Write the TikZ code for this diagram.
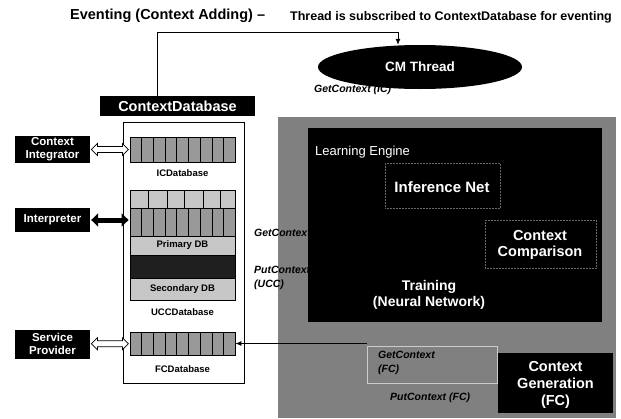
\documentclass[tikz,border=0pt]{standalone}
\usepackage{fontspec}
\setmainfont{Liberation Sans}
\usetikzlibrary{shapes.geometric,shapes.arrows,arrows.meta,calc}
\definecolor{shadegray}{gray}{0.5}
\definecolor{cellgray}{gray}{0.6}
\definecolor{lightrow}{gray}{0.78}
\definecolor{faint}{gray}{0.4}
\pgfdeclarelayer{bg}
\pgfsetlayers{bg,main}
\begin{document}
\begin{tikzpicture}[x=1pt,y=-1pt,
  blackbox/.style={fill=black,text=white,align=center,inner sep=0pt,font=\bfseries\fontsize{11.5}{13}\selectfont},
  dbrow/.style={draw=black,line width=0.8pt,fill=cellgray,inner sep=0pt,minimum width=105pt,font=\bfseries\fontsize{9.5}{11}\selectfont},
  dblabel/.style={inner sep=0pt,font=\bfseries\fontsize{9.5}{11}\selectfont},
  conn/.style={draw=black,line width=0.8pt},
  arr/.style={conn,-{Latex[length=6pt,width=5pt]}},
  lbl/.style={inner sep=0pt,anchor=west,align=left,font=\bfseries\itshape\fontsize{10.5}{13.5}\selectfont},
  inner/.style={text=white,align=center,inner sep=0pt,font=\bfseries\fontsize{14.5}{16.5}\selectfont},
  openarrow/.style={double arrow,draw=black,line width=0.7pt,fill=white,minimum width=12pt,minimum height=37pt,double arrow head extend=3pt,inner xsep=0pt,inner ysep=2.5pt},
  faintbox/.style={draw=faint,densely dotted,line width=0.5pt,inner sep=0pt}
]
\useasboundingbox (0,0) rectangle (621,418);
\fill[white] (0,0) rectangle (621,418);

% title
\node[anchor=west,inner sep=0pt,font=\bfseries\fontsize{14.5}{16}\selectfont] (t1) at (70,16) {Eventing (Context Adding) –};
\node[anchor=east,inner sep=0pt,font=\bfseries\fontsize{12.5}{14}\selectfont] (t2) at (612,17) {Thread is subscribed to ContextDatabase for eventing};

% ContextDatabase column
\node[blackbox,minimum width=155pt,minimum height=20pt,font=\bfseries\fontsize{14.5}{16}\selectfont] (cdbh) at (177.5,106) {ContextDatabase};
\node[draw,line width=0.8pt,minimum width=121pt,minimum height=261pt,inner sep=0pt] (cdb) at (183.5,252.5) {};

\node[dbrow,minimum height=25pt] (icdb) at (182.5,149.5) {};
\node[dblabel] (icl) at (182.5,173) {ICDatabase};

\node[dbrow,fill=lightrow,minimum height=18pt] (ucc1) at (182.5,199) {};
\node[dbrow,minimum height=28pt] (ucc2) at (182.5,222) {};
\node[dbrow,fill=lightrow,minimum height=19pt] (prim) at (182.5,245.5) {Primary DB};
\node[dbrow,fill=black!88,minimum height=23pt] (dark) at (182.5,266.5) {};
\node[dbrow,fill=lightrow,minimum height=22pt] (sec) at (182.5,289) {Secondary DB};
\node[dblabel] (uccl) at (182.5,312) {UCCDatabase};

\node[dbrow,minimum height=23pt] (fcdb) at (182.5,343.5) {};
\node[dblabel] (fcl) at (182.5,369) {FCDatabase};

\foreach \r in {icdb,ucc2,fcdb}{
  \foreach \i in {1,...,8}{
    \draw[line width=0.6pt] ($(\r.north west)!\i/9!(\r.north east)$) -- ($(\r.south west)!\i/9!(\r.south east)$);
  }
}
\foreach \f in {0.18,0.36,0.52,0.7,0.86}{
  \draw[line width=0.6pt] ($(ucc1.north west)!\f!(ucc1.north east)$) -- ($(ucc1.south west)!\f!(ucc1.south east)$);
}

% outside actors
\node[blackbox,minimum width=75pt,minimum height=27pt] (ci) at (52.5,149.5) {Context\\Integrator};
\node[blackbox,minimum width=75pt,minimum height=24pt] (interp) at (52.5,220) {Interpreter};
\node[blackbox,minimum width=75pt,minimum height=29pt] (sp) at (52.5,344) {Service\\Provider};

\node[openarrow] (a1) at ($(ci.east)!0.5!(icdb.west)$) {};
\node[openarrow] (a3) at ($(sp.east)!0.5!(fcdb.west)$) {};
\draw[line width=5pt,{Triangle[length=7pt,width=13pt]}-{Triangle[length=7pt,width=13pt]},shorten <=1pt,shorten >=1pt] (interp.east) -- (interp.east -| ucc2.west);

% shaded region and learning engine
\node[fill=shadegray,inner sep=0pt,minimum width=338pt,minimum height=301pt] (shade) at (447,267.5) {};
\node[fill=black,inner sep=0pt,minimum width=294pt,minimum height=194pt] (le) at (455,225) {};
\node[anchor=west,inner sep=0pt,text=white,font=\fontsize{13}{15}\selectfont] (let) at (315,152) {Learning Engine};
\node[faintbox,minimum width=115pt,minimum height=45pt] (infbox) at (442.5,185.5) {};
\node[inner,font=\bfseries\fontsize{15}{17}\selectfont] (inf) at (442,187) {Inference Net};
\node[faintbox,minimum width=111pt,minimum height=48pt] (cmpbox) at (540.5,244) {};
\node[inner] (cmp) at (540,245) {Context\\Comparison};
\node[inner,font=\bfseries\fontsize{14}{15.5}\selectfont] (trn) at (429,295) {Training\\(Neural Network)};

% context generation
\node[fill=black,inner sep=0pt,minimum width=115pt,minimum height=60pt] (cg) at (555.5,383) {};
\node[inner,font=\bfseries\fontsize{14.5}{17}\selectfont] (cgt) at (555.5,385) {Context\\Generation\\(FC)};

% GetContext/PutContext (FC)
\node[draw=white!80!black,line width=0.6pt,inner sep=0pt,minimum width=130pt,minimum height=37pt] (gcbox) at (432,364.5) {};
\node[lbl,anchor=north west] (gcfc) at (378,351) {GetContext\\(FC)};
\node[lbl] (pcfc) at (390,398) {PutContext (FC)};
\draw[arr] (gcbox.north west |- fcdb.east) -- (fcdb.east);

% labels at UCC
\node[lbl] (gcu) at (254,233) {GetContext};
\node[lbl] (pcu) at (254,278) {PutContext\\(UCC)};

% CM Thread
\node[lbl] (gcic) at (314,90) {GetContext (IC)};
\node[ellipse,fill=black,text=white,inner sep=0pt,minimum width=204pt,minimum height=44pt,font=\bfseries\fontsize{13.5}{15}\selectfont] (cm) at (420,67) {CM Thread};

\coordinate (evl) at (157,32);
\coordinate (vx) at (398,32);
\coordinate (icx) at (307,70);

\draw[arr] (cdbh.north -| evl) |- (vx) -- (vx |- cm.north);
\begin{pgfonlayer}{bg}
  \draw[arr] (icdb.east) -| (icx) -- (icx -| cm.west);
  \draw[conn] (cm.south -| vx) -- (le.north -| vx);
  \draw[conn] (prim.east) -- (prim.east -| le.west);
  \draw[arr] (le.west |- dark.east) -- (dark.east);
\end{pgfonlayer}
\end{tikzpicture}
\end{document}
